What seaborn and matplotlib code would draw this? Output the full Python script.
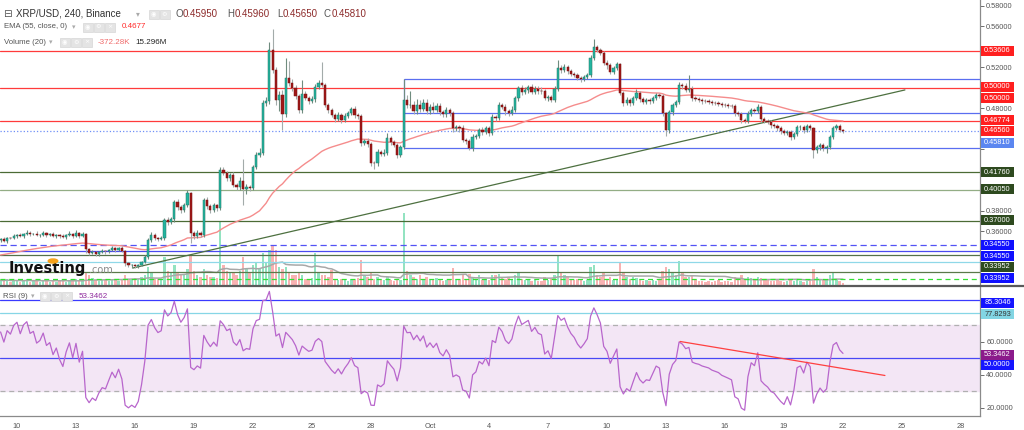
import numpy as np
import pandas as pd
import matplotlib
matplotlib.use("Agg")
import matplotlib.pyplot as plt
import seaborn as sns
from matplotlib.patches import Rectangle, Circle
from matplotlib.lines import Line2D

# ---------------- data ----------------
first_open = 0.3520
closes = [
    0.3525, 0.3510, 0.3540, 0.3535, 0.3560, 0.3570, 0.3555, 0.3580, 0.3590, 0.3575,
    0.3580, 0.3565, 0.3570, 0.3585, 0.3570, 0.3575, 0.3560, 0.3570, 0.3555, 0.3545,
    0.3565, 0.3580, 0.3560, 0.3585, 0.3555, 0.3575, 0.3425, 0.3390, 0.3400, 0.3385,
    0.3400, 0.3410, 0.3405, 0.3420, 0.3435, 0.3420, 0.3435, 0.3410, 0.3290, 0.3270,
    0.3275, 0.3260, 0.3270, 0.3300, 0.3355, 0.3520, 0.3565, 0.3540, 0.3525, 0.3535,
    0.3710, 0.3690, 0.3725, 0.3890, 0.3840, 0.3810, 0.3860, 0.3975, 0.3585, 0.3560,
    0.3590, 0.3570, 0.3905, 0.3850, 0.3810, 0.3860, 0.3830, 0.4200, 0.4170, 0.4125,
    0.4150, 0.4055, 0.4030, 0.4090, 0.4010, 0.4030, 0.4025, 0.4230, 0.4350, 0.4370,
    0.4850, 0.4875, 0.5370, 0.5175, 0.4880, 0.4935, 0.4745, 0.5100, 0.5050, 0.5000,
    0.4920, 0.4790, 0.4940, 0.4905, 0.4875, 0.4890, 0.5010, 0.5050, 0.5025, 0.4835,
    0.4785, 0.4735, 0.4700, 0.4735, 0.4685, 0.4725, 0.4755, 0.4795, 0.4740, 0.4725,
    0.4465, 0.4480, 0.4455, 0.4270, 0.4265, 0.4375, 0.4355, 0.4370, 0.4510, 0.4475,
    0.4445, 0.4345, 0.4425, 0.4885, 0.4830, 0.4835, 0.4780, 0.4835, 0.4795, 0.4850,
    0.4775, 0.4815, 0.4785, 0.4820, 0.4765, 0.4745, 0.4785, 0.4755, 0.4610, 0.4620,
    0.4605, 0.4495, 0.4485, 0.4415, 0.4520, 0.4535, 0.4590, 0.4575, 0.4605, 0.4565,
    0.4715, 0.4705, 0.4835, 0.4815, 0.4775, 0.4760, 0.4790, 0.4900, 0.5000, 0.4965,
    0.4985, 0.5005, 0.4965, 0.4995, 0.4975, 0.4970, 0.4900, 0.4915, 0.4885, 0.4995,
    0.5195, 0.5175, 0.5200, 0.5165, 0.5140, 0.5125, 0.5100, 0.5085, 0.5105, 0.5130,
    0.5295, 0.5400, 0.5375, 0.5345, 0.5245, 0.5220, 0.5155, 0.5195, 0.5235, 0.4950,
    0.4855, 0.4885, 0.4855, 0.4905, 0.4955, 0.4895, 0.4865, 0.4880, 0.4875, 0.4905,
    0.4935, 0.4925, 0.4760, 0.4590, 0.4765, 0.4835, 0.4865, 0.5030, 0.5015, 0.4985,
    0.4995, 0.4900, 0.4890, 0.4885, 0.4875, 0.4870, 0.4865, 0.4855, 0.4850, 0.4845,
    0.4835, 0.4830, 0.4825, 0.4820, 0.4755, 0.4745, 0.4690, 0.4675, 0.4745, 0.4785,
    0.4775, 0.4815, 0.4700, 0.4680, 0.4665, 0.4640, 0.4630, 0.4605, 0.4580, 0.4560,
    0.4575, 0.4525, 0.4555, 0.4615, 0.4620, 0.4595, 0.4625, 0.4610, 0.4395, 0.4425,
    0.4445, 0.4415, 0.4425, 0.4520, 0.4610, 0.4625, 0.4595, 0.4581,
]
# wick lengths above / below the body, in thousandths of a dollar
wick_hi = [
    1, 2, 1, 1, 2, 1, 2, 1, 2, 1,   1, 2, 1, 2, 1, 1, 2, 1, 1, 2,
    1, 2, 1, 3, 1, 2, 1, 1, 2, 1,   1, 2, 1, 1, 2, 1, 1, 2, 1, 1,
    1, 1, 1, 1, 2, 2, 3, 2, 1, 2,   2, 3, 2, 2, 3, 2, 2, 3, 1, 2,
    2, 1, 2, 3, 2, 2, 1, 3, 3, 2,   2, 3, 2, 4, 22, 3, 2, 2, 3, 4,
    3, 4, 8, 21, 3, 4, 5, 19, 16, 4,   3, 2, 14, 3, 2, 3, 3, 3, 20, 2,
    2, 2, 2, 3, 2, 3, 2, 2, 3, 2,   2, 2, 3, 2, 2, 3, 2, 3, 5, 2,
    2, 2, 2, 20, 5, 14, 4, 6, 5, 4,   4, 3, 5, 3, 3, 2, 3, 2, 2, 2,
    2, 3, 2, 2, 3, 2, 2, 3, 2, 2,   3, 2, 3, 2, 3, 2, 3, 2, 2, 3,
    2, 2, 3, 2, 2, 3, 2, 2, 2, 2,   8, 3, 3, 2, 2, 2, 2, 2, 2, 2,
    3, 8, 2, 2, 2, 3, 2, 2, 2, 1,   2, 3, 2, 2, 4, 2, 2, 2, 2, 2,
    2, 2, 2, 1, 2, 2, 2, 3, 2, 3,   13, 2, 2, 2, 2, 2, 2, 2, 2, 2,
    2, 2, 2, 2, 2, 2, 2, 2, 3, 2,   2, 3, 2, 2, 2, 2, 2, 2, 2, 2,
    2, 2, 2, 2, 2, 2, 2, 2, 1, 2,   2, 2, 2, 2, 2, 2, 2, 0.1,
]
wick_lo = [
    2, 1, 2, 1, 1, 2, 1, 2, 1, 2,   1, 1, 2, 1, 2, 1, 1, 2, 2, 1,
    2, 1, 2, 1, 2, 1, 3, 2, 1, 2,   2, 1, 2, 1, 1, 2, 1, 1, 3, 2,
    3, 2, 2, 1, 1, 2, 2, 2, 2, 1,   2, 3, 2, 3, 3, 3, 2, 2, 10, 3,
    2, 2, 2, 3, 3, 2, 3, 2, 2, 3,   3, 2, 3, 3, 15, 4, 3, 2, 2, 2,
    2, 3, 3, 3, 5, 10, 15, 3, 3, 3,   3, 3, 3, 2, 3, 2, 3, 2, 2, 2,
    3, 2, 3, 2, 3, 2, 2, 2, 3, 3,   3, 2, 3, 3, 6, 3, 2, 2, 2, 3,
    2, 3, 2, 2, 3, 3, 3, 3, 3, 2,   3, 3, 3, 2, 3, 3, 3, 3, 4, 3,
    3, 2, 3, 2, 3, 2, 2, 3, 2, 3,   2, 3, 2, 2, 4, 3, 2, 2, 3, 3,
    2, 3, 2, 2, 3, 3, 2, 3, 2, 2,   2, 3, 2, 3, 2, 2, 2, 3, 2, 2,
    2, 2, 2, 2, 2, 3, 2, 2, 2, 2,   3, 2, 3, 2, 2, 3, 2, 2, 3, 2,
    2, 2, 3, 6, 3, 3, 2, 2, 2, 2,   2, 3, 2, 2, 3, 2, 2, 2, 2, 2,
    2, 2, 2, 2, 3, 2, 3, 2, 2, 2,   2, 2, 3, 2, 2, 3, 2, 2, 3, 2,
    2, 3, 2, 2, 2, 3, 2, 2, 8, 3,   3, 3, 5, 2, 2, 2, 2, 1.6,
]
volume_m = [
    12, 10, 15, 8, 12, 10, 8, 12, 15, 8,   10, 12, 8, 10, 12, 8, 10, 8, 12, 10,
    8, 12, 10, 15, 12, 10, 32, 25, 18, 12,   10, 12, 15, 10, 12, 15, 10, 12, 25, 15,
    12, 18, 15, 20, 25, 45, 30, 15, 15, 15,   70, 35, 30, 50, 30, 25, 25, 40, 75, 35,
    25, 20, 40, 25, 20, 20, 18, 158, 50, 35,   30, 30, 25, 35, 70, 40, 30, 50, 55, 40,
    80, 55, 88, 100, 88, 45, 40, 45, 30, 25,   25, 30, 25, 15, 15, 18, 80, 30, 25, 25,
    20, 38, 15, 12, 15, 12, 10, 15, 12, 18,   62, 25, 20, 32, 15, 20, 12, 12, 20, 12,
    10, 15, 12, 180, 35, 25, 20, 15, 25, 15,   20, 12, 15, 18, 12, 10, 12, 12, 42, 15,
    12, 25, 15, 28, 20, 15, 25, 12, 15, 12,   25, 25, 28, 20, 15, 20, 15, 25, 30, 15,
    12, 12, 10, 12, 10, 10, 20, 12, 15, 25,   75, 30, 25, 20, 15, 12, 15, 12, 10, 12,
    45, 50, 25, 20, 30, 15, 20, 12, 15, 55,   30, 20, 15, 20, 18, 12, 10, 12, 10, 12,
    10, 12, 35, 45, 40, 30, 25, 60, 30, 20,   20, 25, 12, 10, 10, 8, 10, 8, 10, 12,
    8, 10, 10, 8, 20, 15, 25, 15, 20, 18,   12, 20, 18, 12, 12, 10, 10, 12, 10, 8,
    10, 12, 10, 15, 10, 8, 10, 10, 40, 20,   15, 12, 12, 25, 30, 15, 10, 5,
]
ema_seed = 0.3365          # EMA(55) value before the first visible candle
rsi_seed_gain = 0.0013     # RSI(9) average gain / loss before the first candle
rsi_seed_loss = 0.0007
date_tick_labels = ['10', '13', '16', '19', '22', '25', '28', 'Oct', '4', '7',
                    '10', '13', '16', '19', '22', '25', '28']
date_tick_candles = [5, 23, 41, 59, 77, 95, 113, 131, 149, 167,
                     185, 203, 221, 239, 257, 275, 293]
price_ticks = [0.36, 0.38, 0.40, 0.42, 0.44, 0.46, 0.48, 0.50, 0.52, 0.54, 0.56, 0.58]
price_tick_shown = [0.36, 0.38, 0.48, 0.52, 0.56, 0.58]
rsi_ticks = [20, 40, 60, 80]
rsi_tick_shown = [20, 40, 60]

# drawn levels (price, colour, style)
level_prices = [0.53606, 0.50000, 0.46774, 0.45810, 0.41760, 0.40050, 0.37000,
                0.3470, 0.3410, 0.3371, 0.3302, 0.3205, 0.3137]
level_colors = ['#ff3b3b', '#ff3b3b', '#ff3b3b', '#6f8ff7', '#4b6b35', '#93ad85',
                '#4b6b35', '#5252f5', '#4a4af0', '#55704a', '#8fd8e8', '#5a7a4a',
                '#33e033']
level_styles = ['-', '-', '-', ':', '-', '-', '-', (0, (5, 3)), '-', '-', '-', '-',
                (0, (4, 3))]
box_prices = [0.5088, 0.4756, 0.4415]     # blue range box
box_start = 123
trend_pts = [(40.4, 0.3244), (275.9, 0.4981)]
rsi_trend_pts = [(207.3, 60.3), (269.8, 39.7)]
rsi_levels = [85.3046, 77.8293, 50.0]

axis_label_texts = ['0.53606', '0.50000', '0.50000', '0.46774', '0.46560', '0.45810',
                    '0.41760', '0.40050', '0.37000', '0.34550', '0.34550', '0.33952',
                    '0.33952']
axis_label_colors = ['#ff1f1f', '#ff1f1f', '#ff1f1f', '#ff1f1f', '#ff1f1f', '#5b86f0',
                     '#2e4a1f', '#2e4a1f', '#2e4a1f', '#1010ff', '#1010ff', '#2e4a1f',
                     '#1010ff']
rsi_label_texts = ['85.3046', '77.8293', '53.3462', '50.0000']
rsi_label_colors = ['#1515ff', '#82d5e3', '#8b1a8b', '#1515ff']
rsi_label_text_colors = ['white', '#333333', 'white', 'white']

# ---------------- layout (pixels) ----------------
W, H = 1024, 430
axis_label_y_px = [51, 87, 98, 120, 131, 143, 172, 189, 220, 245, 256, 267, 278]
rsi_label_y_px = [303, 314, 355, 365]

sns.set_style("white")
plt.rcParams['font.family'] = ['Liberation Sans', 'DejaVu Sans']

fig = plt.figure(figsize=(W / 100, H / 100), dpi=100)
fig.patch.set_facecolor('white')

def fx(px):
    return px / W

def fy(py):
    return 1 - py / H

main_rect = [0, fy(285), fx(980), 285 / H]
rsi_rect = [0, fy(416), fx(980), (416 - 287) / H]

ax_vol = fig.add_axes(main_rect, zorder=0)
ax = fig.add_axes(main_rect, zorder=1)
ax.patch.set_alpha(0)
ax_rsi = fig.add_axes(rsi_rect)

n = len(closes)
x = np.arange(n)
c = np.array(closes)
o = np.array([first_open] + closes[:-1])
hi = np.maximum(o, c) + np.array(wick_hi) / 1000
lo = np.minimum(o, c) - np.array(wick_lo) / 1000
up = c >= o

xlim = (-0.18, 298.8)

# volume
vol_colors = np.where(up, '#93e3c1', '#f8b2b2')
ax_vol.bar(x, volume_m, width=0.75, color=vol_colors, linewidth=0)
vol_ma = pd.Series(volume_m).rolling(20, min_periods=1).mean()
sns.lineplot(x=x, y=vol_ma.values, ax=ax_vol, color='#a8a8a8', lw=1.1)
ax_vol.set_xlim(*xlim)
ax_vol.set_ylim(0, 712)
ax_vol.axis('off')

# levels
for p, col, ls in zip(level_prices, level_colors, level_styles):
    ax.axhline(p, color=col, lw=0.9, ls=ls, zorder=1)
for p in box_prices:
    ax.hlines(p, box_start, xlim[1], color='#5a6ef0', lw=0.9, zorder=1)
ax.vlines(box_start, box_prices[2], box_prices[0], color='#5a6ef0', lw=0.9, zorder=1)
ax.plot([trend_pts[0][0], trend_pts[1][0]], [trend_pts[0][1], trend_pts[1][1]],
        color='#4d7040', lw=0.9, zorder=2)

# EMA
ema = pd.Series([ema_seed] + closes).ewm(span=55, adjust=False).mean().values[1:]
sns.lineplot(x=x, y=ema, ax=ax, color='#f58c8c', lw=1.0, zorder=3)

# candles
wick_cols = np.where(up, '#6f8c7f', '#a3abaa')
ax.vlines(x, lo, hi, colors=wick_cols, lw=0.8, zorder=4)
body_h = np.maximum(np.abs(c - o), 0.0005)
body_b = np.minimum(o, c)
ax.bar(x, body_h, bottom=body_b, width=0.68,
       color=np.where(up, '#22b5a0', '#a01818'),
       edgecolor=np.where(up, '#2a7564', '#7a1010'), linewidth=0.35, zorder=5)

ax.set_xlim(*xlim)
ax.set_ylim(0.30780, 0.58585)
ax.yaxis.tick_right()
ax.set_yticks(price_ticks)
ax.set_yticklabels([f'{v:.5f}' if v in price_tick_shown else '' for v in price_ticks])
ax.tick_params(axis='y', labelsize=5.3, colors='#555555', length=3, width=0.6, pad=1.5)
ax.set_xticks([])
for s in ['top', 'left', 'bottom']:
    ax.spines[s].set_visible(False)
ax.spines['right'].set_color('#8a8a8a')
ax.spines['right'].set_linewidth(0.9)
ax.set_ylabel('')

# RSI (Wilder smoothing, seeded with the averages before the first candle)
delta = np.diff(np.array([first_open] + closes))
ag, al = rsi_seed_gain, rsi_seed_loss
rsi = []
for d in delta:
    ag = (ag * 8 + max(d, 0)) / 9
    al = (al * 8 + max(-d, 0)) / 9
    rsi.append(100 - 100 / (1 + ag / al) if al > 0 else 100)
rsi = np.array(rsi)

ax_rsi.axhspan(30, 70, color='#f3e6f5', zorder=0)
ax_rsi.axhline(70, color='#b0b0b0', lw=0.9, ls=(0, (4, 3)), zorder=1)
ax_rsi.axhline(30, color='#b0b0b0', lw=0.9, ls=(0, (4, 3)), zorder=1)
for lv, col in zip(rsi_levels, ['#3a3aff', '#86d6e6', '#4848f5']):
    ax_rsi.axhline(lv, color=col, lw=0.9, zorder=2)
sns.lineplot(x=x, y=rsi, ax=ax_rsi, color='#b866cc', lw=0.9, zorder=3)
ax_rsi.plot([rsi_trend_pts[0][0], rsi_trend_pts[1][0]],
            [rsi_trend_pts[0][1], rsi_trend_pts[1][1]], color='#ff4040', lw=0.9, zorder=4)
ax_rsi.set_xlim(*xlim)
ax_rsi.set_ylim(15.15, 93.3)
ax_rsi.yaxis.tick_right()
ax_rsi.set_yticks(rsi_ticks)
ax_rsi.set_yticklabels([f'{v:.4f}' if v in rsi_tick_shown else '' for v in rsi_ticks])
ax_rsi.set_xticks(date_tick_candles)
ax_rsi.set_xticklabels(date_tick_labels)
ax_rsi.tick_params(axis='y', labelsize=5.3, colors='#555555', length=3, width=0.6, pad=1.5)
ax_rsi.tick_params(axis='x', labelsize=5.3, colors='#555555', length=3, width=0.6, pad=2)
for s in ['top', 'left']:
    ax_rsi.spines[s].set_visible(False)
for s in ['right', 'bottom']:
    ax_rsi.spines[s].set_color('#8a8a8a')
    ax_rsi.spines[s].set_linewidth(0.9)
ax_rsi.set_ylabel('')

# separator between panes
fig.add_artist(Line2D([0, 1], [fy(285.5), fy(285.5)], transform=fig.transFigure,
                      color='#5a5a5a', lw=1.6, zorder=6))

# price labels on the axis
def axis_box(text, ypx, face, tcol='white'):
    fig.add_artist(Rectangle((fx(981), fy(ypx + 5)), fx(33), 10 / H,
                             transform=fig.transFigure, facecolor=face,
                             edgecolor='none', zorder=5))
    fig.text(fx(997.5), fy(ypx), text, color=tcol, fontsize=5.3, ha='center',
             va='center', zorder=6)

for t, ypx, col in zip(axis_label_texts, axis_label_y_px, axis_label_colors):
    axis_box(t, ypx, col)
for t, ypx, col, tc in zip(rsi_label_texts, rsi_label_y_px, rsi_label_colors,
                           rsi_label_text_colors):
    axis_box(t, ypx, col, tc)

# legend header texts
def icons(x0, ypx, count):
    for k in range(count):
        fig.add_artist(Rectangle((fx(x0 + k * 11), fy(ypx + 4.5)), fx(9.5), 9 / H,
                                 transform=fig.transFigure, facecolor='#e4e4e4',
                                 edgecolor='#d6d6d6', lw=0.5, zorder=5))
        glyph = ['◉', '⚙', '×'][k]
        fig.text(fx(x0 + k * 11 + 4.75), fy(ypx), glyph, fontsize=4.5, color='white',
                 ha='center', va='center', zorder=6, family=['DejaVu Sans'])

fig.text(fx(3), fy(14), '⊟', fontsize=7.5, color='#555555', va='center',
         family=['DejaVu Sans'])
fig.text(fx(16), fy(14), 'XRP/USD, 240, Binance', fontsize=7, color='#333333',
         va='center')
fig.text(fx(136), fy(14), '▾', fontsize=5.5, color='#aaaaaa', va='center',
         family=['DejaVu Sans'])
icons(149, 14, 2)
for lab, val, xp in [('O', '0.45950', 175), ('H', '0.45960', 227),
                     ('L', '0.45650', 277), ('C', '0.45810', 324)]:
    fig.text(fx(xp), fy(14), lab, fontsize=7, color='#555555', va='center')
    fig.text(fx(xp + (8 if lab != 'L' else 6)), fy(14), val, fontsize=7,
             color='#8c2a2a', va='center')

fig.text(fx(4), fy(27), 'EMA (55, close, 0)', fontsize=5.6, color='#555555', va='center')
fig.text(fx(72), fy(27), '▾', fontsize=5, color='#aaaaaa', va='center',
         family=['DejaVu Sans'])
icons(83, 27, 3)
fig.text(fx(122), fy(27), '0.4677', fontsize=5.8, color='#ff2a2a', va='center')

fig.text(fx(4), fy(42), 'Volume (20)', fontsize=5.6, color='#555555', va='center')
fig.text(fx(49), fy(42), '▾', fontsize=5, color='#aaaaaa', va='center',
         family=['DejaVu Sans'])
icons(60, 42, 3)
fig.text(fx(98), fy(42), '-372.28K', fontsize=5.8, color='#f06a6a', va='center')
fig.text(fx(135), fy(42), '15.296M', fontsize=5.8, color='#222222', va='center')

fig.text(fx(3), fy(296), 'RSI (9)', fontsize=5.6, color='#555555', va='center')
fig.text(fx(31), fy(296), '▾', fontsize=5, color='#aaaaaa', va='center',
         family=['DejaVu Sans'])
icons(40, 296, 3)
fig.text(fx(79), fy(296), '53.3462', fontsize=5.8, color='#8e2a9e', va='center')

# watermark
fig.text(fx(9), fy(268), 'Investing', fontsize=10.5, fontweight='bold', color='#111111',
         va='center', family=['DejaVu Sans'], zorder=6)
fig.text(fx(89), fy(270), '.com', fontsize=7, color='#8a8a8a', va='center',
         family=['DejaVu Sans'], zorder=6)
fig.add_artist(Circle((fx(53), fy(261)), 2.0 / H, transform=fig.transFigure,
                      color='#f7a21b', zorder=7))

fig.savefig('out.png', dpi=100, facecolor='white')
